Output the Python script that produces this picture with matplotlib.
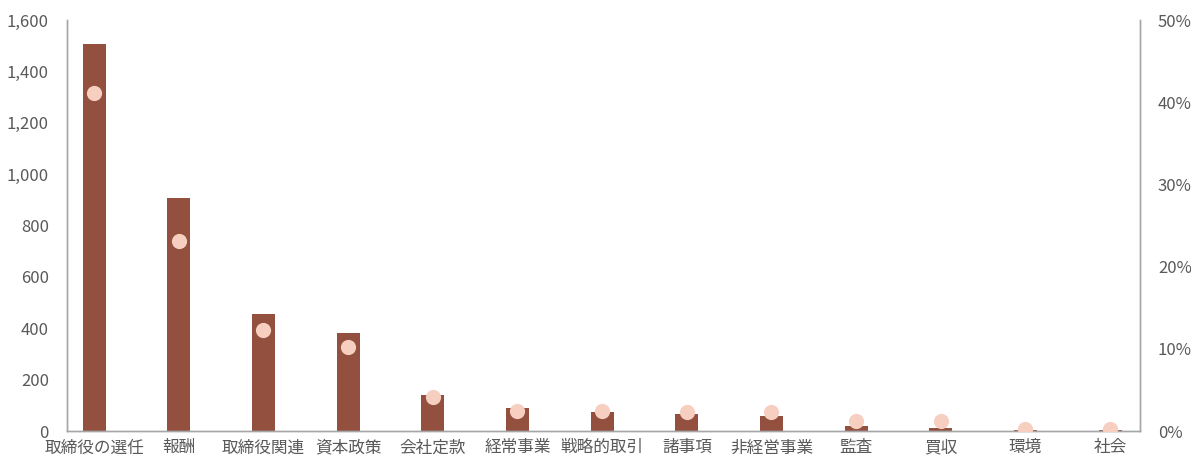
import matplotlib.pyplot as plt
from matplotlib.ticker import FuncFormatter

plt.rcParams['font.family'] = ['Noto Sans CJK JP', 'DejaVu Sans']

categories = ['取締役の選任', '報酬', '取締役関連', '資本政策', '会社定款', '経常事業',
              '戦略的取引', '諸事項', '非経営事業', '監査', '買収', '環境', '社会']
counts = [1506, 907, 455, 381, 140, 90, 74, 66, 58, 21, 13, 5, 5]
shares = [41.1, 23.1, 12.3, 10.2, 4.1, 2.4, 2.4, 2.3, 2.3, 1.2, 1.2, 0.3, 0.3]

bar_color = '#93503F'
dot_color = '#F7CFC1'
axis_color = '#A6A6A6'
text_color = '#595959'

fig = plt.figure(figsize=(11.91, 4.59), dpi=100)
ax = fig.add_axes([0.0563, 0.061, 0.9007, 0.8953])
x = list(range(len(categories)))
ax.bar(x, counts, width=0.27, color=bar_color, zorder=2)
ax.set_xlim(-0.32, 12.35)
ax.set_ylim(0, 1600)
ax.set_yticks(range(0, 1601, 200))
ax.yaxis.set_major_formatter(FuncFormatter(lambda v, p: f'{int(v):,}'))
ax.set_xticks(x)
ax.set_xticklabels(categories)

ax2 = ax.twinx()
ax2.scatter(x, shares, s=120, color=dot_color, zorder=3, linewidths=0)
ax2.set_ylim(0, 50)
ax2.set_yticks(range(0, 51, 10))
ax2.yaxis.set_major_formatter(FuncFormatter(lambda v, p: f'{int(v)}%'))

for a in (ax, ax2):
    a.spines['top'].set_visible(False)
    for s in ('left', 'right', 'bottom'):
        a.spines[s].set_color(axis_color)
        a.spines[s].set_linewidth(1.0)
    a.tick_params(length=0, colors=text_color, labelsize=12)
ax.tick_params(axis='y', pad=13)
ax2.tick_params(axis='y', pad=13)
ax.tick_params(axis='x', pad=6)

fig.savefig('out.png', dpi=100)
